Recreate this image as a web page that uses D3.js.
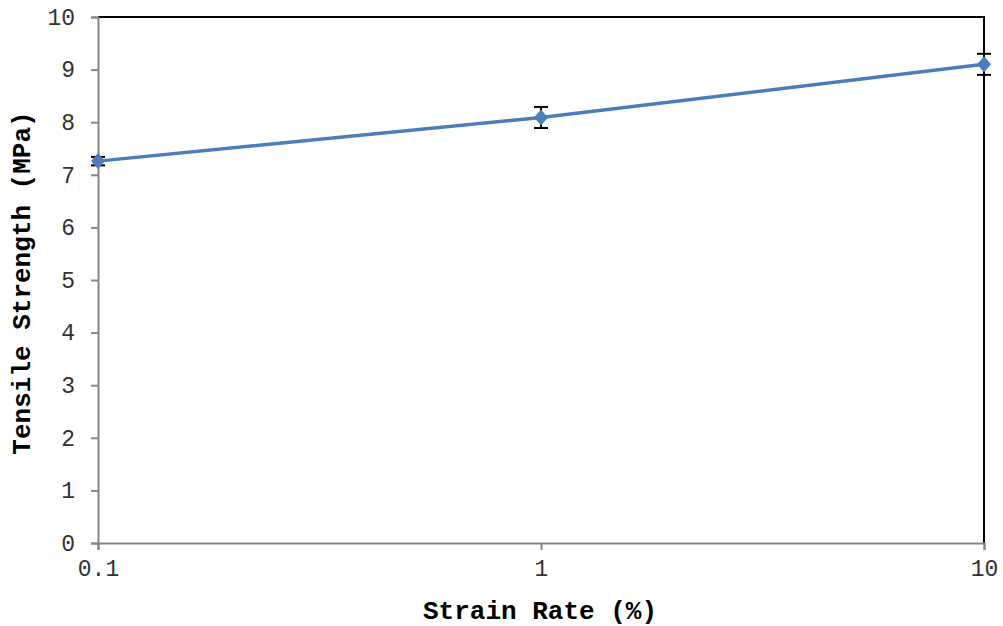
<!DOCTYPE html>
<html><head><meta charset="utf-8">
<script src="https://cdn.jsdelivr.net/npm/d3@7"></script>
<style>body{margin:0;background:#fff}svg{display:block}</style>
</head><body>
<script>
const strainRates = [0.1, 1, 10];
const tensileStrength = [7.26, 8.09, 9.1];
const errors = [0.08, 0.2, 0.2];
const yTicks = [0,1,2,3,4,5,6,7,8,9,10];
const xTicks = [0.1, 1, 10];
const xTickLabels = ["0.1", "1", "10"];

const W = 1003, H = 626;
const m = {l: 98, r: 19, t: 17, b: 83};
const svg = d3.select("body").append("svg").attr("width", W).attr("height", H);
const x = d3.scaleLog().domain([0.1, 10]).range([m.l, W - m.r]);
const y = d3.scaleLinear().domain([0, 10]).range([H - m.b, m.t]);
const font = "'Liberation Mono','Courier New',monospace";

// top & right border
svg.append("path").attr("d", `M${x(0.1)},${y(10)}H${x(10)}V${y(0)}`)
  .attr("fill", "none").attr("stroke", "#000").attr("stroke-width", 2);

const yAxis = svg.append("g").attr("transform", `translate(${m.l},0)`)
  .call(d3.axisLeft(y).tickValues(yTicks).tickSize(7).tickPadding(16).tickFormat(d3.format("d")));
const xAxis = svg.append("g").attr("transform", `translate(0,${H - m.b})`)
  .call(d3.axisBottom(x).tickValues(xTicks).tickSize(7).tickPadding(10).tickFormat((d,i) => xTickLabels[i]));
[yAxis, xAxis].forEach(g => {
  g.select(".domain").attr("stroke", "#868686").attr("stroke-width", 2);
  g.selectAll(".tick line").attr("stroke", "#868686").attr("stroke-width", 2);
  g.selectAll(".tick text").attr("font-family", font).attr("font-size", 23).attr("fill", "#333");
});

const pts = strainRates.map((d, i) => ({x: d, y: tensileStrength[i], e: errors[i]}));
svg.append("path").datum(pts)
  .attr("d", d3.line().x(d => x(d.x)).y(d => y(d.y)))
  .attr("fill", "none").attr("stroke", "#4a7ebb").attr("stroke-width", 3.5);

// error bars
const eb = svg.append("g").attr("stroke", "#000").attr("stroke-width", 2);
pts.forEach(d => {
  const cx = x(d.x);
  eb.append("line").attr("x1", cx).attr("x2", cx).attr("y1", y(d.y + d.e)).attr("y2", y(d.y - d.e));
  [d.y + d.e, d.y - d.e].forEach(v =>
    eb.append("line").attr("x1", cx - 7).attr("x2", cx + 7).attr("y1", y(v)).attr("y2", y(v)));
});

svg.append("g").selectAll("path").data(pts).join("path")
  .attr("transform", d => `translate(${x(d.x)},${y(d.y)})`)
  .attr("d", "M0,-8L7,0L0,8L-7,0Z").attr("fill", "#4a7ebb");

svg.append("text").attr("x", (x(0.1) + x(10)) / 2 - 1).attr("y", 619)
  .attr("text-anchor", "middle").attr("font-family", font).attr("font-weight", "bold")
  .attr("font-size", 26).attr("fill", "#000").text("Strain Rate (%)");
svg.append("text").attr("transform", `translate(30,${(y(0) + y(10)) / 2 + 3}) rotate(-90)`)
  .attr("text-anchor", "middle").attr("font-family", font).attr("font-weight", "bold")
  .attr("font-size", 26).attr("fill", "#000").text("Tensile Strength (MPa)");
</script>
</body></html>
